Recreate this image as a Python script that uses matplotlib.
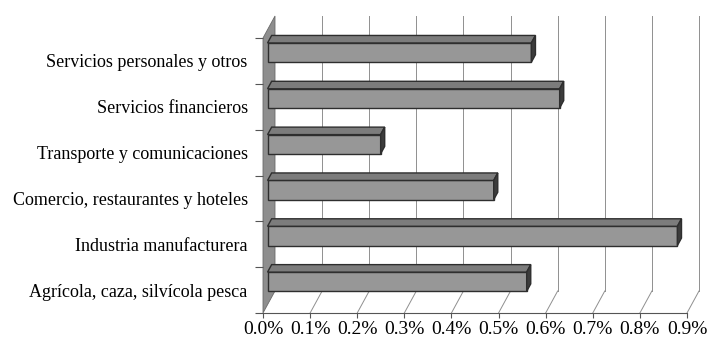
import numpy as np
import matplotlib.pyplot as plt
from matplotlib.patches import Polygon

plt.rcParams['font.family'] = ['Liberation Serif', 'DejaVu Serif']

# data, bottom to top
sectores = ["Agrícola, caza, silvícola pesca",
            "Industria manufacturera",
            "Comercio, restaurantes y hoteles",
            "Transporte y comunicaciones",
            "Servicios financieros",
            "Servicios personales y otros"]
valores = [0.55, 0.87, 0.48, 0.24, 0.62, 0.56]
xticks = [0.0, 0.1, 0.2, 0.3, 0.4, 0.5, 0.6, 0.7, 0.8, 0.9]

W, H = 708, 344
fig = plt.figure(figsize=(W / 100, H / 100), dpi=100)
x0, x1, yb, yt = 263, 687, 313, 38
ax = fig.add_axes([x0 / W, (H - yb) / H, (x1 - x0) / W, (yb - yt) / H])
ax.set_xlim(0, 0.9)
ax.set_ylim(0, 6)

# pixel -> data units
px_x = 0.9 / (x1 - x0)
px_y = 6 / (yb - yt)
dX, dY = 12 * px_x, 22 * px_y          # full depth of the 3d box
fX, fY = 0.38 * dX, 0.38 * dY          # bar front plane
bX, bY = 0.34 * dX, 0.34 * dY          # bar depth

# side wall
ax.add_patch(Polygon([(0, 0), (0, 6), (dX, 6 + dY), (dX, dY)], closed=True,
                     facecolor='#8e8e8e', edgecolor='#6a6a6a', lw=0.6,
                     clip_on=False, zorder=1))

# gridlines: back wall and floor
for v in xticks[1:]:
    ax.plot([v + dX, v + dX], [dY, 6 + dY], color='#8f8f8f', lw=0.7,
            clip_on=False, zorder=0.5)
    ax.plot([v, v + dX], [0, dY], color='#8f8f8f', lw=0.7,
            clip_on=False, zorder=0.5)

# bars
h = 0.42
ypos = np.arange(len(valores)) + 0.5 + fY
ax.barh(ypos, valores, height=h, left=fX, color='#979797',
        edgecolor='#2e2e2e', lw=1.0, zorder=3, clip_on=False)
for y, v in zip(ypos, valores):
    top, bot = y + h / 2, y - h / 2
    ax.add_patch(Polygon([(fX, top), (fX + v, top), (fX + v + bX, top + bY),
                          (fX + bX, top + bY)], closed=True,
                         facecolor='#7c7c7c', edgecolor='#2e2e2e', lw=1.0,
                         zorder=3, clip_on=False))
    ax.add_patch(Polygon([(fX + v, bot), (fX + v, top), (fX + v + bX, top + bY),
                          (fX + v + bX, bot + bY)], closed=True,
                         facecolor='#3c3c3c', edgecolor='#2e2e2e', lw=1.0,
                         zorder=3, clip_on=False))

# axes styling
for s in ['top', 'right', 'left']:
    ax.spines[s].set_visible(False)
ax.spines['bottom'].set_color('#555555')
ax.spines['bottom'].set_linewidth(0.8)

ax.set_xticks(xticks)
ax.set_xticklabels([f"{v:.1f}%" for v in xticks])
ax.tick_params(axis='x', length=3.6, width=0.8, color='#555555', pad=2,
               labelsize=14)

ax.set_yticks(range(7))
ax.set_yticklabels([])
ax.set_yticks(np.arange(6) + 0.5, minor=True)
ax.set_yticklabels(sectores, minor=True)
ax.tick_params(axis='y', which='major', length=6, width=0.8, color='#555555')
ax.tick_params(axis='y', which='minor', length=0, pad=11, labelsize=13)
ax.set_facecolor('none')

plt.savefig('out.png', dpi=100)
